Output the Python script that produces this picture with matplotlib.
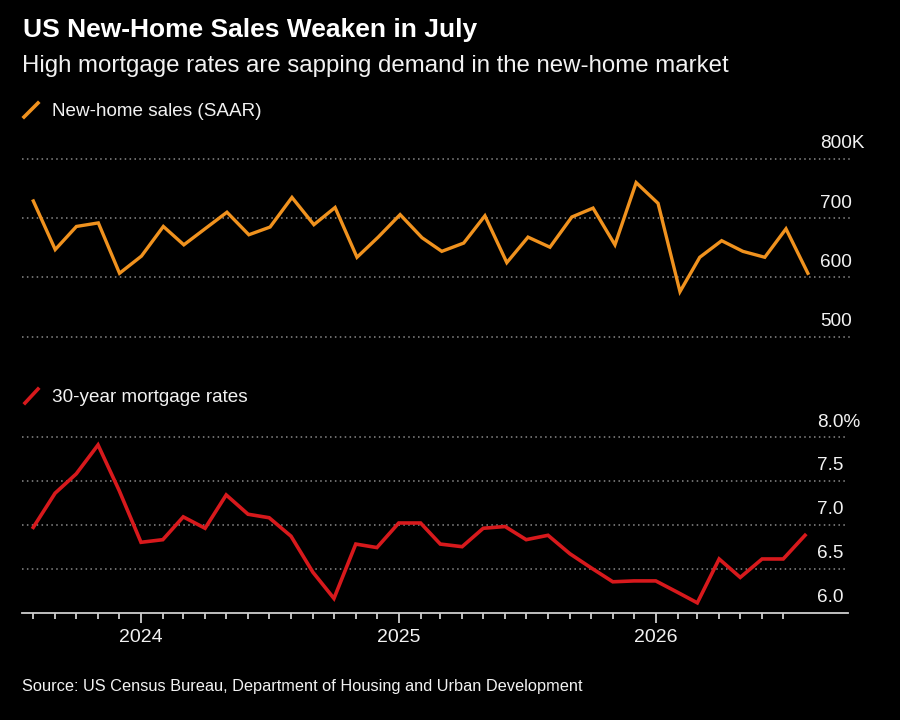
import pandas as pd
import matplotlib
matplotlib.use("Agg")
import matplotlib.pyplot as plt
import matplotlib.transforms as mtransforms
from matplotlib.lines import Line2D

plt.rcParams["font.family"] = ["Liberation Sans", "DejaVu Sans"]

# Monthly data, Aug 2023 - Aug 2026
dates = pd.date_range("2023-08-01", periods=37, freq="MS")

home_sales = [729, 647, 686, 692, 607, 636, 686, 655, 683, 710,
              672, 685, 735, 689, 718, 634, 668, 706, 667, 644,
              658, 704, 625, 668, 651, 702, 717, 655, 760, 725,
              576, 634, 662, 644, 634, 682, 607]

mortgage_rates = [6.97, 7.36, 7.58, 7.91, 7.39, 6.80, 6.83, 7.09, 6.96, 7.34,
                  7.12, 7.08, 6.87, 6.46, 6.16, 6.78, 6.74, 7.02, 7.02, 6.78,
                  6.75, 6.96, 6.98, 6.83, 6.88, 6.67, 6.51, 6.35, 6.36, 6.36,
                  6.23, 6.11, 6.61, 6.40, 6.61, 6.61, 6.88]

sales_ticks = [500, 600, 700, 800]
sales_labels = ["500", "600", "700", "800K"]
rate_ticks = [6.0, 6.5, 7.0, 7.5, 8.0]
rate_labels = ["6.0", "6.5", "7.0", "7.5", "8.0%"]
year_ticks = pd.to_datetime(["2024-01-01", "2025-01-01", "2026-01-01"])
year_labels = ["2024", "2025", "2026"]
month_ticks = pd.date_range("2023-08-01", "2026-07-01", freq="MS")

BG = "#000000"
ORANGE = "#F0921E"
RED = "#D7191C"
TEXT = "#F2F2F2"
GRID = "#8A8A8A"
AXIS = "#CFCFCF"

W, H = 900, 720
fig = plt.figure(figsize=(9, 7.2), dpi=100, facecolor=BG)


def px_axes(left, top, right, bottom):
    return fig.add_axes([left / W, 1 - bottom / H, (right - left) / W, (bottom - top) / H])


xlim = (dates[0] - pd.Timedelta(days=16), dates[-1] + pd.Timedelta(days=61))

ax1 = px_axes(22, 150, 851, 345)
ax2 = px_axes(22, 430, 848, 612.5)

for ax in (ax1, ax2):
    ax.set_facecolor(BG)
    ax.set_xlim(*xlim)
    for s in ax.spines.values():
        s.set_visible(False)
    ax.set_yticks([])

# top panel
ax1.set_ylim(486, 815)
for v in sales_ticks:
    ax1.axhline(v, color=GRID, lw=1.1, ls=(0, (1, 2.2)), zorder=1)
ax1.plot(dates, home_sales, color=ORANGE, lw=2.4, solid_joinstyle="miter", zorder=3)
ax1.set_xticks([])

# bottom panel
ax2.set_ylim(6.0, 8.08)
for v in rate_ticks[1:]:
    ax2.axhline(v, color=GRID, lw=1.1, ls=(0, (1, 2.2)), zorder=1)
ax2.plot(dates, mortgage_rates, color=RED, lw=2.6, solid_joinstyle="miter", zorder=3)
ax2.spines["bottom"].set_visible(True)
ax2.spines["bottom"].set_color(AXIS)
ax2.spines["bottom"].set_linewidth(1.3)
ax2.set_xticks(year_ticks)
ax2.set_xticklabels(year_labels)
ax2.set_xticks([d for d in month_ticks if d.month != 1], minor=True)
ax2.tick_params(axis="x", which="major", direction="out", length=7.2, width=1.3,
                color=AXIS, labelcolor=TEXT, labelsize=14, pad=5)
ax2.tick_params(axis="x", which="minor", direction="out", length=4.6, width=1.3,
                color=AXIS)

# value labels sitting above gridlines on the right
for ax, ticks, labels in ((ax1, sales_ticks, sales_labels), (ax2, rate_ticks, rate_labels)):
    trans = mtransforms.blended_transform_factory(ax.transAxes, ax.transData)
    off = mtransforms.offset_copy(trans, fig=fig, x=0, y=7.5, units="points")
    for v, lab in zip(ticks, labels):
        ax.text(0.9625, v, lab, transform=off, color=TEXT, fontsize=13.7,
                ha="left", va="baseline")

# titles
fig.text(23 / W, 1 - 30 / H, "US New-Home Sales Weaken in July", color="#FFFFFF",
         fontsize=19, fontweight="bold", ha="left", va="center")
fig.text(22 / W, 1 - 66 / H, "High mortgage rates are sapping demand in the new-home market",
         color=TEXT, fontsize=17.3, ha="left", va="center")

# legend swatches
for (x0, y0, x1, y1), color, label, ty in (
        ((24, 117, 38, 103), ORANGE, "New-home sales (SAAR)", 111),
        ((25, 403, 38, 389), RED, "30-year mortgage rates", 397)):
    fig.add_artist(Line2D([x0 / W, x1 / W], [1 - y0 / H, 1 - y1 / H], color=color,
                          lw=2.6, transform=fig.transFigure))
    fig.text(51.5 / W, 1 - ty / H, label, color=TEXT, fontsize=13.6, ha="left", va="center")

fig.text(22.5 / W, 1 - 687 / H,
         "Source: US Census Bureau, Department of Housing and Urban Development",
         color=TEXT, fontsize=11.8, ha="left", va="center")

fig.savefig("out.png", dpi=100, facecolor=BG)
